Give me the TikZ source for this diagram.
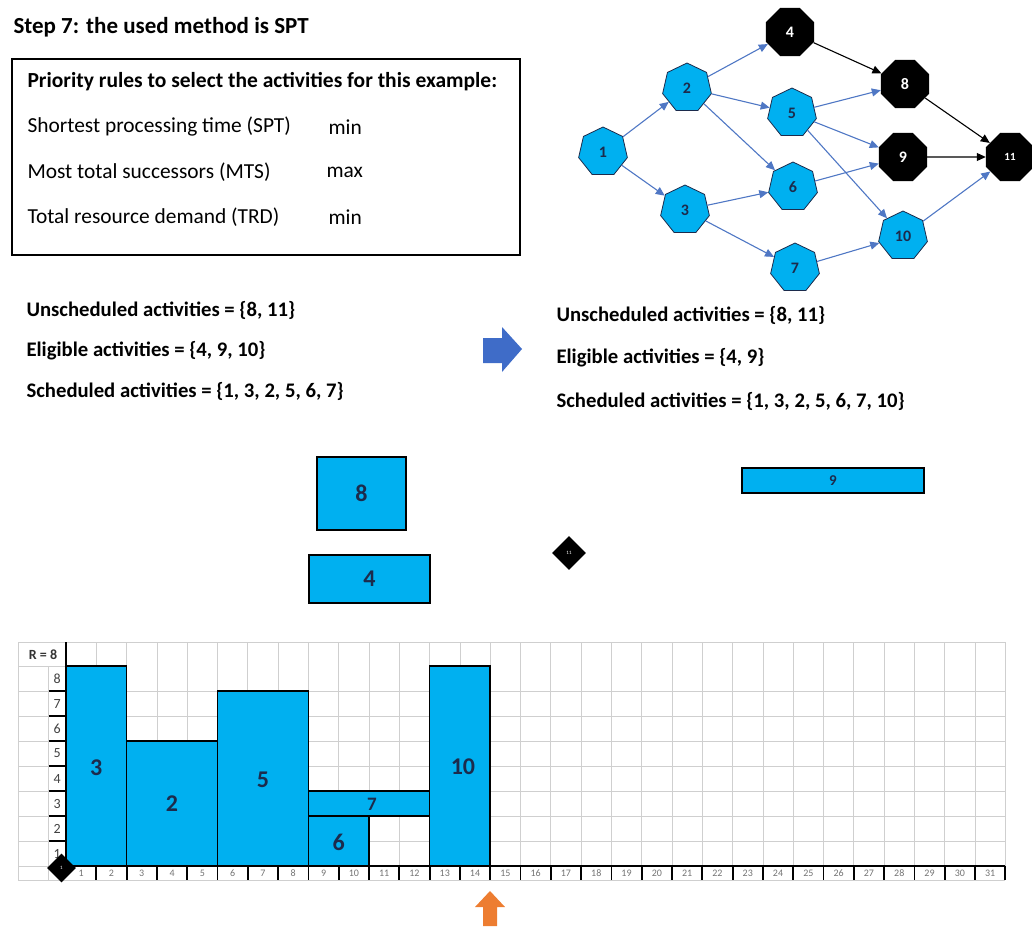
\documentclass[tikz,border=0pt]{standalone}
\usepackage{fontspec}
\setmainfont{Carlito}
\usetikzlibrary{shapes.geometric,arrows.meta}

\definecolor{actblue}{HTML}{00B0F0}
\definecolor{navy}{HTML}{1C2B4C}
\definecolor{linkblue}{HTML}{4F77C4}
\definecolor{gridgray}{HTML}{CFCFCF}
\definecolor{arrowblue}{HTML}{3F6CC8}
\definecolor{arroworange}{HTML}{ED7D31}

\begin{document}
\begin{tikzpicture}[x=1pt, y=-1pt,
    act/.style={regular polygon, regular polygon sides=7, minimum size=50pt, inner sep=0pt,
        draw=navy, line width=0.8pt, fill=actblue, text=navy, font=\bfseries\fontsize{16}{16}\selectfont},
    done/.style={regular polygon, regular polygon sides=8, minimum size=52pt, inner sep=0pt,
        fill=black, text=white, font=\bfseries\fontsize{16}{16}\selectfont},
    link/.style={draw=linkblue, line width=1.1pt, -{Triangle[length=9pt, width=8pt]}},
    blacklink/.style={link, draw=black},
    listtext/.style={anchor=west, font=\bfseries\fontsize{20.7}{21}\selectfont},
    bar/.style={draw=black, line width=1.6pt, fill=actblue},
    barlabel/.style={text=navy, font=\bfseries\fontsize{24}{24}\selectfont},
    gridline/.style={draw=gridgray, line width=0.8pt},
    axis/.style={draw=black, line width=1.8pt},
    milestone/.style={diamond, fill=black, text=white, inner sep=0pt, minimum size=30pt, font=\fontsize{5}{5}\selectfont},
]
    \useasboundingbox (0,0) rectangle (1032,926);

    %% Step 7

    % Title and priority rules
    \node[anchor=west, font=\bfseries\fontsize{23}{23}\selectfont] (title) at (10,27) {Step 7: the used method is SPT};
    \draw[line width=1.2pt] (12,59) rectangle (520,255);
    \node[anchor=west, font=\bfseries\fontsize{21.5}{21.5}\selectfont] (rules) at (24,82) {Priority rules to select the activities for this example:};
    \begin{scope}[every node/.style={anchor=west, font=\fontsize{21.4}{21.4}\selectfont}]
        \node (spt) at (24,127) {Shortest processing time (SPT)};
        \node (mts) at (24,172) {Most total successors (MTS)};
        \node (trd) at (24,217) {Total resource demand (TRD)};
        \node (sptval) at (325,127) {min};
        \node (mtsval) at (323,172) {max};
        \node (trdval) at (325,217) {min};
    \end{scope}

    % Network
    \node[act] (n1) at (603,152) {1};
    \node[act] (n2) at (687,88) {2};
    \node[act] (n3) at (685,210) {3};
    \node[done] (n4) at (790,32) {4};
    \node[act] (n5) at (792,113) {5};
    \node[act] (n6) at (793,187) {6};
    \node[act] (n7) at (795,268) {7};
    \node[done] (n8) at (905,84) {8};
    \node[done] (n9) at (903,157) {9};
    \node[act] (n10) at (903,236) {10};
    \node[done, font=\bfseries\fontsize{11}{11}\selectfont] (n11) at (1010,157) {11};

    \draw[link] (n1) -- (n2);
    \draw[link] (n1) -- (n3);
    \draw[link] (n2) -- (n4);
    \draw[link] (n2) -- (n5);
    \draw[link] (n2) -- (n6);
    \draw[link] (n3) -- (n6);
    \draw[link] (n3) -- (n7);
    \draw[link] (n5) -- (n8);
    \draw[link] (n5) -- (n9);
    \draw[link] (n5) -- (n10);
    \draw[link] (n6) -- (n9);
    \draw[link] (n7) -- (n10);
    \draw[link] (n10) -- (n11);
    \draw[blacklink] (n4) -- (n8);
    \draw[blacklink] (n8) -- (n11);
    \draw[blacklink] (n9) -- (n11);

    % Activity sets, before and after
    \node[listtext] (unsch) at (23,310) {Unscheduled activities = \{8, 11\}};
    \node[listtext] (elig) at (23,351) {Eligible activities = \{4, 9, 10\}};
    \node[listtext] (sched) at (23,391) {Scheduled activities = \{1, 3, 2, 5, 6, 7\}};
    \fill[arrowblue] (483,338) -- (502,338) -- (502,327) -- (522,349) -- (502,372) -- (502,363) -- (483,363) -- cycle;
    \node[listtext] (unsch2) at (553,315) {Unscheduled activities = \{8, 11\}};
    \node[listtext] (elig2) at (553,358) {Eligible activities = \{4, 9\}};
    \node[listtext] (sched2) at (553,401) {Scheduled activities = \{1, 3, 2, 5, 6, 7, 10\}};

    % Eligible activities waiting
    \draw[bar] (317,457) rectangle (406,530);
    \node[barlabel] (w8) at (361.5,493.5) {8};
    \draw[bar] (309,555) rectangle (430,603);
    \node[barlabel] (w4) at (369.5,579) {4};
    \draw[bar] (742,468) rectangle (924,493);
    \node[barlabel, font=\bfseries\fontsize{15}{15}\selectfont] (w9) at (833,480.5) {9};
    \node[milestone, minimum size=34pt] (m11) at (569,553) {11};

    % Resource profile
    \begin{scope}[shift={(66,866)}, x=30.3pt, y=25pt]
        % grid
        \foreach \c in {1,...,31}
            \draw[gridline] (\c,0) -- (\c,8.96);
        \foreach \r in {1,...,7}
            \draw[gridline] (-1.58,\r) -- (31,\r);
        \draw[gridline] (-1.58,8.96) -- (31,8.96);
        \draw[gridline] (-1.58,-0.56) -- (31,-0.56);
        \draw[gridline] (-1.58,-0.56) -- (-1.58,8.96);
        \draw[gridline] (-0.59,-0.56) -- (-0.59,8);
        \draw[gridline] (-1.58,8) -- (0,8);
        \draw[gridline] (-1.58,0) -- (0,0);

        % axes
        \draw[axis] (0,0) -- (0,8.96);
        \draw[axis] (0,0) -- (31,0);
        \foreach \c in {1,...,31}
            \draw[axis] (\c,0) -- (\c,-0.56);
        \foreach \r in {1,...,7}
            \draw[axis] (-0.56,\r) -- (0,\r);
        \foreach \c in {1,...,31}
            \node[text=black!55, font=\fontsize{10}{10}\selectfont] (x\c) at (\c-0.5,-0.29) {\c};
        \foreach \r in {1,...,8}
            \node[anchor=east, text=black!75, font=\fontsize{14}{14}\selectfont] (y\r) at (-0.06,\r-0.5) {\r};
        \node[font=\bfseries\fontsize{14}{14}\selectfont, text=black!80] (rmax) at (-0.76,8.47) {R = 8};

        % scheduled activities
        \draw[bar] (0,0) rectangle (2,8);
        \node[barlabel] (a3) at (1,3.95) {3};
        \draw[bar] (2,0) rectangle (5,5);
        \node[barlabel] (a2) at (3.5,2.5) {2};
        \draw[bar] (5,0) rectangle (8,7);
        \node[barlabel] (a5) at (6.5,3.45) {5};
        \draw[bar] (8,0) rectangle (10,2);
        \node[barlabel] (a6) at (9,0.95) {6};
        \draw[bar] (8,2) rectangle (12,3);
        \node[barlabel, font=\bfseries\fontsize{19}{19}\selectfont] (a7) at (10.1,2.45) {7};
        \draw[bar] (12,0) rectangle (14,8);
        \node[barlabel] (a10) at (13.1,3.98) {10};

        \node[milestone, minimum size=29pt] (m1) at (-0.15,-0.08) {1};
    \end{scope}

    % Decision time
    \fill[arroworange] (490,891) -- (505,907) -- (497,907) -- (497,926) -- (483,926) -- (483,907) -- (475,907) -- cycle;

\end{tikzpicture}
\end{document}
